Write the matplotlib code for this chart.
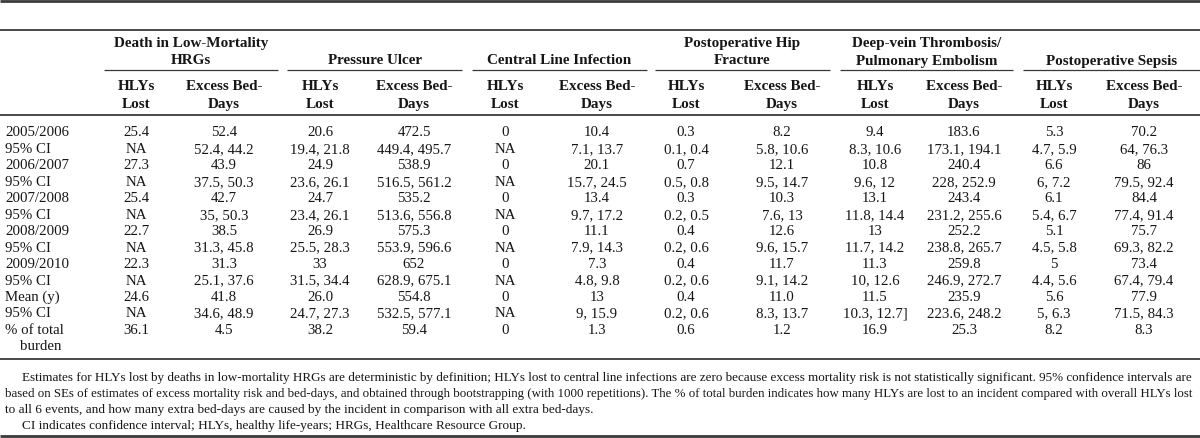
import matplotlib
matplotlib.use("Agg")
import matplotlib.pyplot as plt

groups = ["Death in Low-Mortality\nHRGs", "Pressure Ulcer", "Central Line Infection",
          "Postoperative Hip\nFracture", "Deep-vein Thrombosis/\nPulmonary Embolism",
          "Postoperative Sepsis"]
sub_headers = ["HLYs\nLost", "Excess Bed-\nDays"]
row_labels = ["2005/2006", "95% CI", "2006/2007", "95% CI", "2007/2008", "95% CI",
              "2008/2009", "95% CI", "2009/2010", "95% CI", "Mean (y)", "95% CI",
              "% of total"]
extra_label = "burden"

death_hly = ["25.4", "NA", "27.3", "NA", "25.4", "NA", "22.7", "NA", "22.3", "NA", "24.6", "NA", "36.1"]
death_bed = ["52.4", "52.4, 44.2", "43.9", "37.5, 50.3", "42.7", "35, 50.3", "38.5", "31.3, 45.8",
             "31.3", "25.1, 37.6", "41.8", "34.6, 48.9", "4.5"]
pu_hly = ["20.6", "19.4, 21.8", "24.9", "23.6, 26.1", "24.7", "23.4, 26.1", "26.9", "25.5, 28.3",
          "33", "31.5, 34.4", "26.0", "24.7, 27.3", "38.2"]
pu_bed = ["472.5", "449.4, 495.7", "538.9", "516.5, 561.2", "535.2", "513.6, 556.8", "575.3",
          "553.9, 596.6", "652", "628.9, 675.1", "554.8", "532.5, 577.1", "59.4"]
cl_hly = ["0", "NA", "0", "NA", "0", "NA", "0", "NA", "0", "NA", "0", "NA", "0"]
cl_bed = ["10.4", "7.1, 13.7", "20.1", "15.7, 24.5", "13.4", "9.7, 17.2", "11.1", "7.9, 14.3",
          "7.3", "4.8, 9.8", "13", "9, 15.9", "1.3"]
hip_hly = ["0.3", "0.1, 0.4", "0.7", "0.5, 0.8", "0.3", "0.2, 0.5", "0.4", "0.2, 0.6", "0.4",
           "0.2, 0.6", "0.4", "0.2, 0.6", "0.6"]
hip_bed = ["8.2", "5.8, 10.6", "12.1", "9.5, 14.7", "10.3", "7.6, 13", "12.6", "9.6, 15.7",
           "11.7", "9.1, 14.2", "11.0", "8.3, 13.7", "1.2"]
dvt_hly = ["9.4", "8.3, 10.6", "10.8", "9.6, 12", "13.1", "11.8, 14.4", "13", "11.7, 14.2",
           "11.3", "10, 12.6", "11.5", "10.3, 12.7]", "16.9"]
dvt_bed = ["183.6", "173.1, 194.1", "240.4", "228, 252.9", "243.4", "231.2, 255.6", "252.2",
           "238.8, 265.7", "259.8", "246.9, 272.7", "235.9", "223.6, 248.2", "25.3"]
sep_hly = ["5.3", "4.7, 5.9", "6.6", "6, 7.2", "6.1", "5.4, 6.7", "5.1", "4.5, 5.8", "5",
           "4.4, 5.6", "5.6", "5, 6.3", "8.2"]
sep_bed = ["70.2", "64, 76.3", "86", "79.5, 92.4", "84.4", "77.4, 91.4", "75.7", "69.3, 82.2",
           "73.4", "67.4, 79.4", "77.9", "71.5, 84.3", "8.3"]

footnotes = [
    "Estimates for HLYs lost by deaths in low-mortality HRGs are deterministic by definition; HLYs lost to central line infections are zero because excess mortality risk is not statistically significant. 95% confidence intervals are",
    "based on SEs of estimates of excess mortality risk and bed-days, and obtained through bootstrapping (with 1000 repetitions). The % of total burden indicates how many HLYs are lost to an incident compared with overall HLYs lost",
    "to all 6 events, and how many extra bed-days are caused by the incident in comparison with all extra bed-days.",
    "CI indicates confidence interval; HLYs, healthy life-years; HRGs, Healthcare Resource Group.",
]

columns = [death_hly, death_bed, pu_hly, pu_bed, cl_hly, cl_bed,
           hip_hly, hip_bed, dvt_hly, dvt_bed, sep_hly, sep_bed]

# layout (pixels)
W, H = 1200, 439
FONT = "Liberation Serif"
FS = 10.7
FS_HEAD = 10.9
FS_NOTE = 9.5
TXT = "#161616"
col_x = [136, 224, 320, 414, 505, 597, 686, 782, 875, 964, 1054, 1144]
group_span = [(104, 278), (287, 462), (472, 647), (655, 830), (840, 1013), (1023, 1200)]
row_y0, row_dy = 133, 16.45
line_col = "#3a3a3a"

fig = plt.figure(figsize=(12, 4.39), dpi=100)
ax = fig.add_axes([0, 0, 1, 1])
ax.set_xlim(0, W)
ax.set_ylim(H, 0)
ax.axis("off")

def hline(y, x0=0, x1=W, lw=1.0):
    ax.plot([x0, x1], [y, y], color=line_col, lw=lw, solid_capstyle="butt")

hline(1.5, lw=2.0)
hline(31, lw=1.3)
hline(116, lw=1.3)
hline(360, lw=1.3)
hline(437, lw=2.0)

# group headers
for g, (a, b) in zip(groups, group_span):
    hline(71, a, b, lw=0.9)
    parts = g.split("\n")
    ys = [43, 61] if len(parts) == 2 else [61]
    for p, y in zip(parts, ys):
        ax.text((a + b) / 2, y, p, ha="center", va="center", fontsize=FS_HEAD,
                fontweight="bold", family=FONT, color=TXT)

# sub headers
for i, x in enumerate(col_x):
    for p, y in zip(sub_headers[i % 2].split("\n"), [87, 105]):
        ax.text(x, y, p, ha="center", va="center", fontsize=FS_HEAD,
                fontweight="bold", family=FONT, color=TXT)

# rows
for r, lab in enumerate(row_labels):
    y = row_y0 + r * row_dy
    ax.text(5, y, lab, ha="left", va="center", fontsize=FS, family=FONT, color=TXT)
    for x, col in zip(col_x, columns):
        ax.text(x, y, col[r], ha="center", va="center", fontsize=FS, family=FONT, color=TXT)
ax.text(20, row_y0 + len(row_labels) * row_dy, extra_label, ha="left", va="center",
        fontsize=FS, family=FONT, color=TXT)

# footnotes
fig.canvas.draw()
renderer = fig.canvas.get_renderer()
BASE = 3.8

def fitted(text, x0, x1, y):
    t = ax.text(x0, y + BASE, text, ha="left", va="baseline", fontsize=FS_NOTE,
                family=FONT, color=TXT)
    w = t.get_window_extent(renderer).width
    t.set_fontsize(FS_NOTE * (x1 - x0) / w)

note_y = [377, 393, 409, 425]
fitted(footnotes[0], 22, 1195, note_y[0])
fitted(footnotes[1], 5, 1195, note_y[1])
ax.text(5, note_y[2] + BASE, footnotes[2], ha="left", va="baseline", fontsize=FS_NOTE,
        family=FONT, color=TXT)
ax.text(22, note_y[3] + BASE, footnotes[3], ha="left", va="baseline", fontsize=FS_NOTE,
        family=FONT, color=TXT)

fig.savefig("out.png", dpi=100)
